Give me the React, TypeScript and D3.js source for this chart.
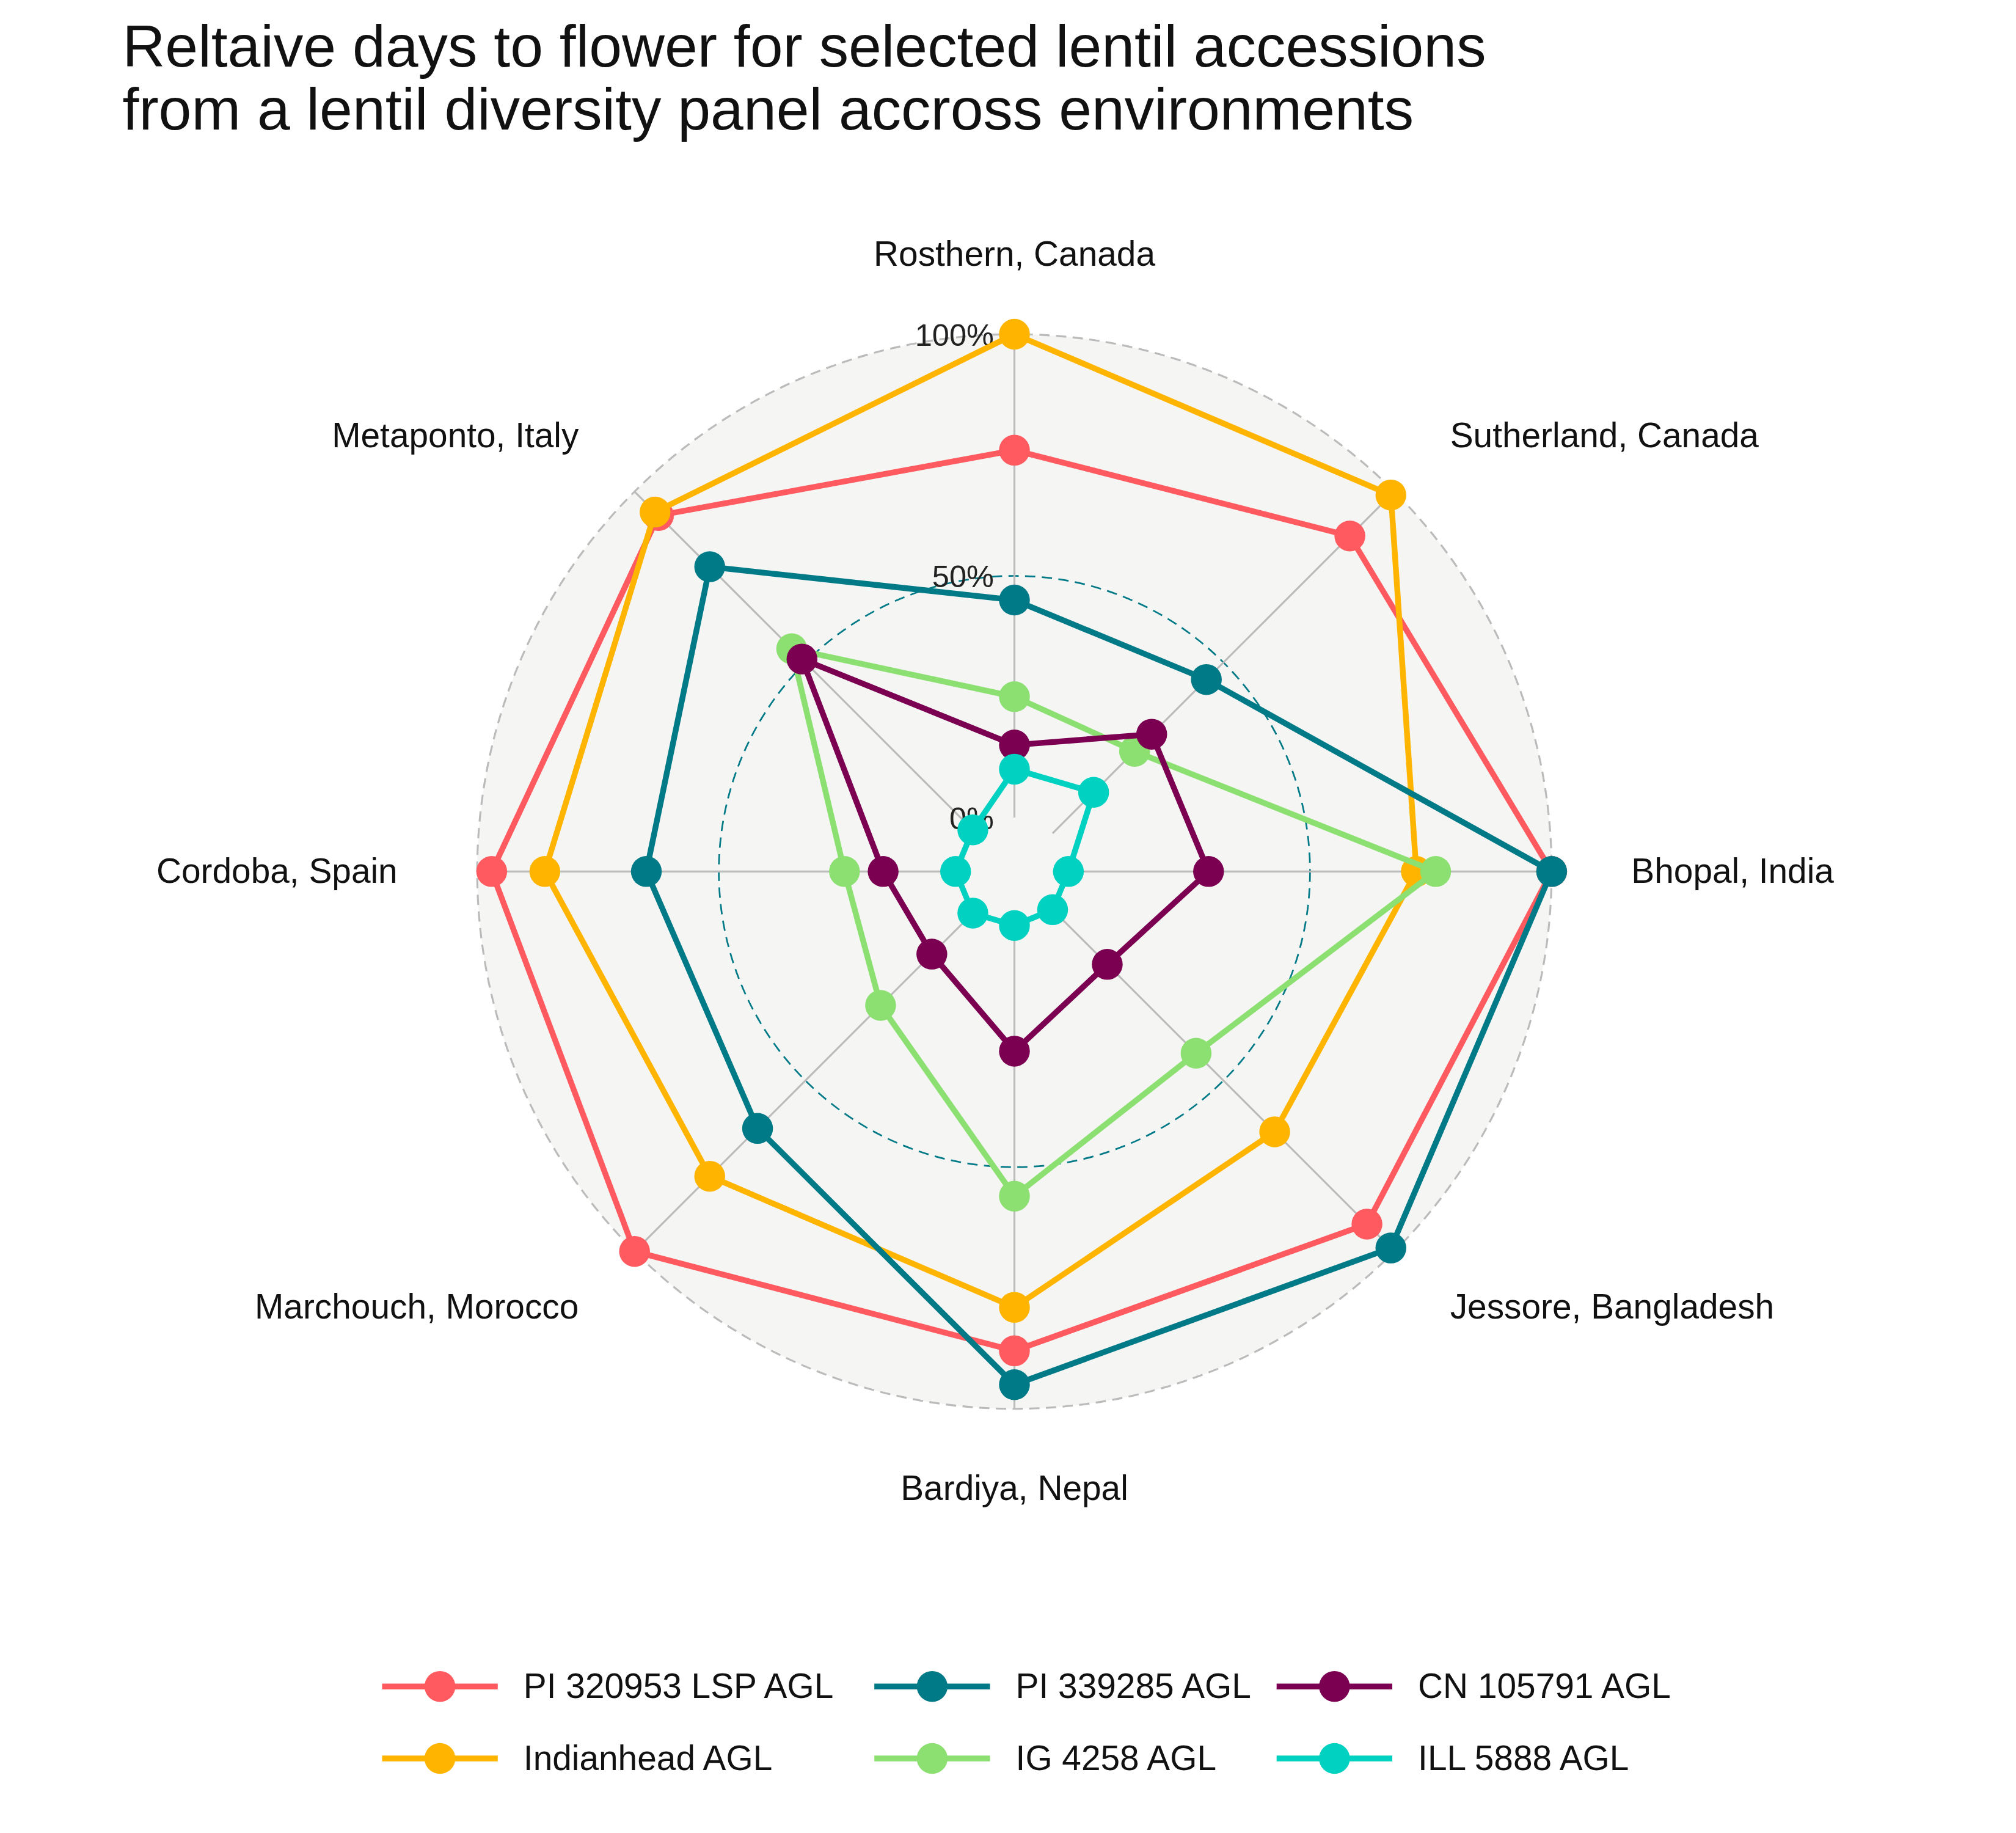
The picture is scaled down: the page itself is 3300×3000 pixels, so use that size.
import * as d3 from "d3";

const axesLabels = [
  "Rosthern, Canada",
  "Sutherland, Canada",
  "Bhopal, India",
  "Jessore, Bangladesh",
  "Bardiya, Nepal",
  "Marchouch, Morocco",
  "Cordoba, Spain",
  "Metaponto, Italy",
];

const seriesNames = [
  "PI 320953 LSP AGL",
  "Indianhead AGL",
  "PI 339285 AGL",
  "IG 4258 AGL",
  "CN 105791 AGL",
  "ILL 5888 AGL",
];

const seriesColors = ["#FF5A5F", "#FFB400", "#007A87", "#8CE071", "#7B0051", "#00D1C1"];

const pi320953 = [76, 87, 100, 92, 88, 100, 97, 93];
const indianhead = [100, 99, 72, 65, 79, 78, 86, 94];
const pi339285 = [45, 45, 100, 99, 95, 64, 65, 78];
const ig4258 = [25, 24, 76, 42, 56, 28, 24, 54];
const cn105791 = [15, 29, 29, 16, 26, 13, 16, 51];
const ill5888 = [10, 12, 0, 0, 0, 1, 1, 1];

const seriesValues = [pi320953, indianhead, pi339285, ig4258, cn105791, ill5888];

const gridTicks = ["0%", "50%", "100%"];

export default function App() {
  const W = 1568;
  const H = 1426;
  const cx = 789;
  const cy = 678;
  const r = d3.scaleLinear([0, 100], [42, 418]);
  const angle = d3.scaleLinear([0, axesLabels.length], [0, 2 * Math.PI]);
  const pt = (i: number, v: number): [number, number] => {
    const a = angle(i);
    return [cx + Math.sin(a) * r(v), cy - Math.cos(a) * r(v)];
  };
  const line = d3.line().curve(d3.curveLinearClosed);
  const font = "Liberation Sans, Arial, sans-serif";

  return (
    <svg
      width={3300}
      height={3000}
      viewBox={`0 0 ${W} ${H}`}
      style={{ position: "absolute", left: 0, top: 0, background: "white" }}
      fontFamily={font}
    >
      <text x={95} y={52} fontSize={46} fill="#111">
        Reltaive days to flower for selected lentil accessions
      </text>
      <text x={95} y={101} fontSize={46} fill="#111">
        from a lentil diversity panel accross environments
      </text>

      <circle cx={cx} cy={cy} r={r(100)} fill="#F5F5F3" stroke="#bbb" strokeWidth={1.5} strokeDasharray="8,5" />
      <circle cx={cx} cy={cy} r={r(50)} fill="none" stroke="#007A87" strokeWidth={1.3} strokeDasharray="8,5" />
      {axesLabels.map((_, i) => {
        const [x1, y1] = pt(i, 0);
        const [x2, y2] = pt(i, 100);
        return <line key={i} x1={x1} y1={y1} x2={x2} y2={y2} stroke="#bbb" strokeWidth={1.5} />;
      })}
      {gridTicks.map((t, i) => (
        <text key={t} x={773} y={cy - r(i * 50) + 9} textAnchor="end" fontSize={24} fill="#222">
          {t}
        </text>
      ))}

      {axesLabels.map((lab, i) => {
        const a = angle(i);
        const s = Math.sin(a);
        const c = Math.cos(a);
        const anchor = Math.abs(s) < 0.01 ? "middle" : s > 0 ? "start" : "end";
        let xx = cx + s * 480;
        let yy = cy - c * 480 + 9;
        if (Math.abs(s) > 0.01 && Math.abs(c) > 0.01) {
          xx = cx + Math.sign(s) * 339;
          yy = cy - Math.sign(c) * 339 + 9;
        }
        return (
          <text key={lab} x={xx} y={yy} textAnchor={anchor} fontSize={27} fill="#111">
            {lab}
          </text>
        );
      })}

      {seriesValues.map((vals, si) => {
        const pts = vals.map((v, i) => pt(i, v));
        return (
          <g key={si}>
            <path d={line(pts) as string} fill="none" stroke={seriesColors[si]} strokeWidth={4.5} />
            {pts.map((p, i) => (
              <circle key={i} cx={p[0]} cy={p[1]} r={12} fill={seriesColors[si]} />
            ))}
          </g>
        );
      })}

      {seriesNames.map((name, i) => {
        const col = [297, 680, 993][Math.floor(i / 2)];
        const y = [1312, 1368][i % 2];
        return (
          <g key={name}>
            <line x1={col} x2={col + 90} y1={y} y2={y} stroke={seriesColors[i]} strokeWidth={4.5} />
            <circle cx={col + 45} cy={y} r={12} fill={seriesColors[i]} />
            <text x={col + 110} y={y + 9} fontSize={27} fill="#111">
              {name}
            </text>
          </g>
        );
      })}
    </svg>
  );
}
